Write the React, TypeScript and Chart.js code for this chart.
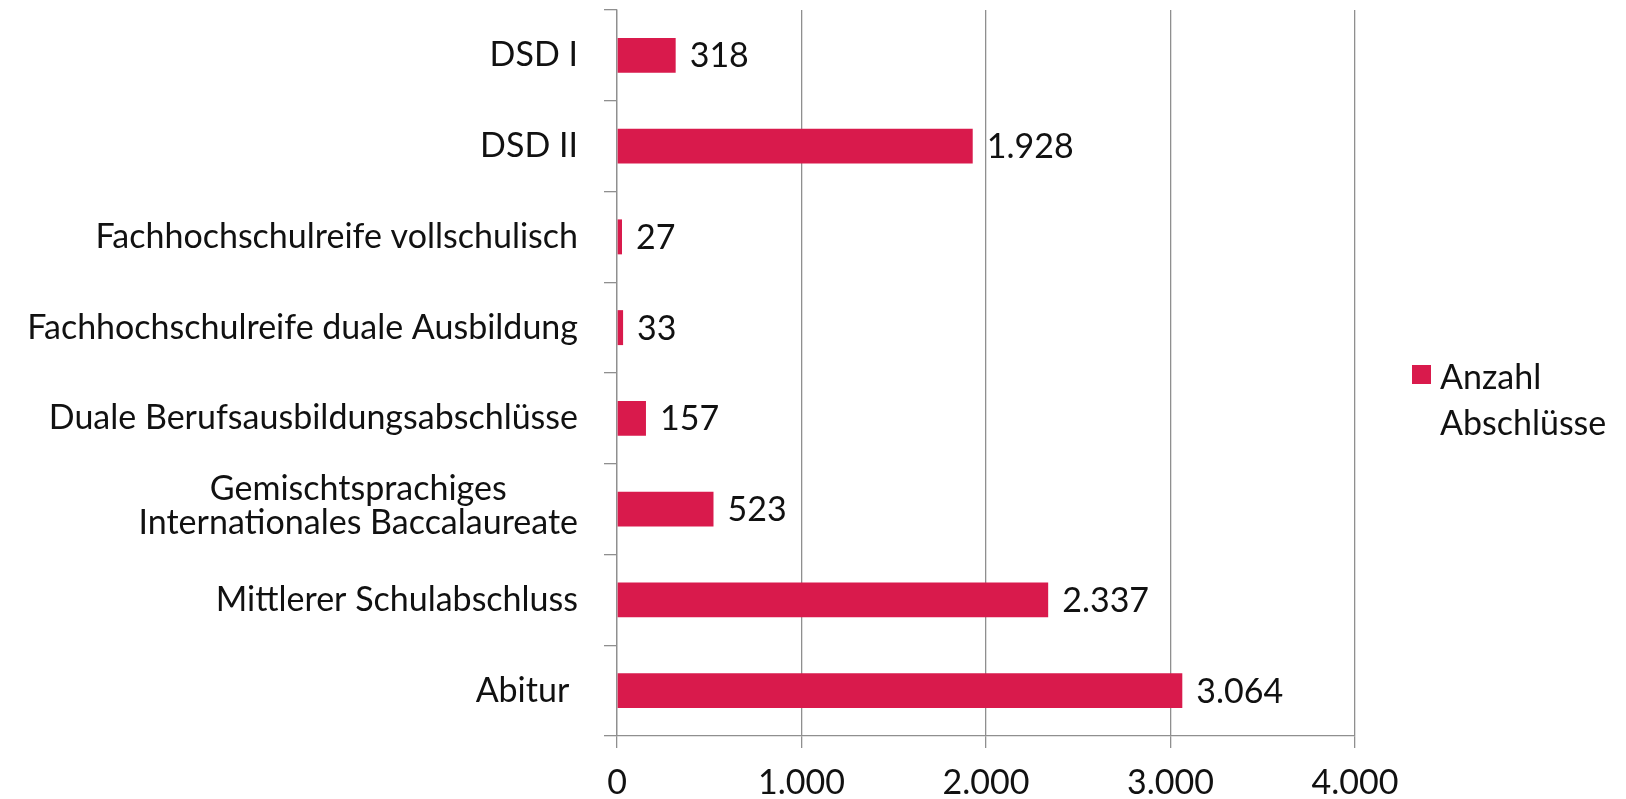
import React, { useEffect, useRef } from "react";
import { Chart, registerables } from "chart.js";

Chart.register(...registerables);

const categories: (string | string[])[] = [
  "DSD I",
  "DSD II",
  "Fachhochschulreife vollschulisch",
  "Fachhochschulreife duale Ausbildung",
  "Duale Berufsausbildungsabschlüsse",
  ["Gemischtsprachiges", "Internationales Baccalaureate"],
  "Mittlerer Schulabschluss",
  "Abitur ",
];
const values: number[] = [318, 1928, 27, 33, 157, 523, 2337, 3064];
const seriesLabel: string[] = ["Anzahl", "Abschlüsse"];
const xTicks: number[] = [0, 1000, 2000, 3000, 4000];

const FONT = "Lato, 'Open Sans', sans-serif";
const FS = 34;
const BAR = "#D91A4C";
const GRID = "#8f8f8f";

const fmt = (v: number) => v.toLocaleString("de-DE");

export default function App() {
  const ref = useRef<HTMLCanvasElement>(null);
  useEffect(() => {
    const canvas = ref.current!;
    const labelsPlugin = {
      id: "customLabels",
      afterDraw(chart: any) {
        const ctx = chart.ctx;
        const y = chart.scales.y;
        ctx.save();
        ctx.font = `${FS}px ${FONT}`;
        ctx.fillStyle = "#111";
        ctx.textBaseline = "middle";
        categories.forEach((c, i) => {
          const cy = y.getPixelForValue(i);
          const right = 578;
          if (Array.isArray(c)) {
            const lh = 34;
            const maxW = Math.max(...c.map((s) => ctx.measureText(s).width));
            ctx.textAlign = "center";
            c.forEach((s, k) => {
              ctx.fillText(s, right - maxW / 2, cy - 3 + (k - (c.length - 1) / 2) * lh);
            });
          } else {
            ctx.textAlign = "right";
            ctx.fillText(c, right, cy);
          }
        });
        const meta = chart.getDatasetMeta(0);
        ctx.textAlign = "left";
        meta.data.forEach((bar: any, i: number) => {
          ctx.fillText(fmt(values[i]), bar.x + 14, bar.y + 1);
        });
        const lx = 1412;
        ctx.fillStyle = BAR;
        ctx.fillRect(lx, 365, 19, 19);
        ctx.fillStyle = "#111";
        ctx.fillText(seriesLabel[0], lx + 28, 378);
        ctx.fillText(seriesLabel[1], lx + 28, 424);
        ctx.restore();
      },
    };
    const chart = new Chart(canvas, {
      type: "bar",
      data: {
        labels: categories.map((c) => (Array.isArray(c) ? c.join(" ") : c)),
        datasets: [
          {
            label: seriesLabel.join(" "),
            data: values,
            backgroundColor: BAR,
            barPercentage: 0.385,
            categoryPercentage: 1,
          },
        ],
      },
      options: {
        indexAxis: "y",
        responsive: false,
        animation: false,
        layout: { padding: { top: 10, right: 271, left: 0, bottom: 0 } },
        plugins: { legend: { display: false }, tooltip: { enabled: false } },
        scales: {
          x: {
            min: 0,
            max: 4000,
            afterBuildTicks: (s: any) => {
              s.ticks = xTicks.map((v) => ({ value: v }));
            },
            afterFit: (s: any) => {
              s.height = 63;
            },
            ticks: {
              callback: (v: any) => fmt(Number(v)),
              font: { size: FS, family: FONT },
              color: "#111",
              padding: 15,
            },
            grid: { color: GRID, lineWidth: 1.3, tickLength: 12, tickColor: GRID },
            border: { color: GRID, width: 1.3 },
          },
          y: {
            offset: true,
            ticks: { display: false },
            afterFit: (s: any) => {
              s.width = 617;
            },
            grid: {
              offset: true,
              drawOnChartArea: false,
              drawTicks: true,
              tickLength: 13,
              color: GRID,
              lineWidth: 1.3,
            },
            border: { color: GRID, width: 1.3 },
          },
        },
      },
      plugins: [labelsPlugin],
    });
    return () => chart.destroy();
  }, []);
  return (
    <div style={{ position: "fixed", left: 0, top: 0, width: 1626, height: 799, background: "#fff" }}>
      <canvas ref={ref} width={1626} height={799} />
    </div>
  );
}
